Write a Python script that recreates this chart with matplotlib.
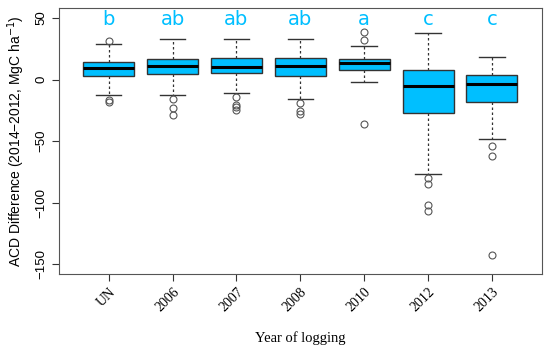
import numpy as np
import matplotlib.pyplot as plt

plt.rcParams['font.family'] = ['Liberation Serif', 'DejaVu Serif']

# groups and box statistics
groups = ["UN", "2006", "2007", "2008", "2010", "2012", "2013"]
letters = ["b", "ab", "ab", "ab", "a", "c", "c"]
q1 = [3.0, 4.7, 5.0, 2.6, 7.9, -27.1, -18.0]
med = [9.0, 11.2, 9.9, 11.2, 13.6, -5.5, -3.4]
q3 = [14.0, 16.6, 17.2, 17.2, 16.4, 7.7, 3.9]
whislo = [-12.3, -12.8, -10.9, -15.5, -2.3, -76.6, -48.2]
whishi = [28.5, 32.8, 32.8, 32.8, 26.9, 37.9, 18.5]
fliers = [
    [31.0, -16.6, -18.2],
    [-16.0, -23.3, -29.0],
    [-14.4, -20.9, -22.5, -25.0],
    [-19.3, -25.8, -27.7],
    [38.5, 32.0, -35.8],
    [-80.0, -84.7, -101.7, -107.0],
    [-53.6, -61.7, -142.2],
]
letter_y = 49

blue = "#00BFFF"
stats = []
for i in range(len(groups)):
    stats.append(dict(med=med[i], q1=q1[i], q3=q3[i], whislo=whislo[i],
                      whishi=whishi[i], fliers=fliers[i], label=groups[i]))

fig = plt.figure(figsize=(5.5, 3.52), dpi=100)
ax = fig.add_axes([0.107, 0.222, 0.878, 0.755])
pos = np.arange(1, len(groups) + 1)
ax.bxp(stats, positions=pos, widths=0.8, patch_artist=True,
       boxprops=dict(facecolor=blue, edgecolor="#333333", linewidth=1),
       medianprops=dict(color="black", linewidth=2.2),
       whiskerprops=dict(color="#333333", linestyle=(0, (2, 2)), linewidth=0.9),
       capprops=dict(color="#333333", linewidth=1),
       capwidths=0.4,
       flierprops=dict(marker="o", markerfacecolor="none", markeredgecolor="#555555",
                       markersize=5, markeredgewidth=0.8))

for p, t in zip(pos, letters):
    ax.text(p, letter_y, t, color=blue, fontsize=14, ha="center", va="center",
            family=["DejaVu Sans"])

ax.set_xlim(0.22, 7.78)
ax.set_ylim(-157.6, 58)
ax.set_yticks([-150, -100, -50, 0, 50])
ax.set_yticklabels(["\u2212150", "\u2212100", "\u221250", "0", "50"], rotation=90,
                   va="center", family=["Liberation Sans"], fontsize=9.5)
ax.set_xticks(pos)
ax.set_xticklabels(groups, rotation=45, ha="right", rotation_mode="anchor", fontsize=10)
ax.tick_params(color="#333333", length=5)
for s in ax.spines.values():
    s.set_color("#555555")
ax.set_ylabel("ACD Difference (2014\u22122012, MgC ha$^{-1}$)", fontsize=10,
              family=["Liberation Sans"], labelpad=6)
ax.set_xlabel("Year of logging", fontsize=10.5, labelpad=12)

fig.savefig("out.png", dpi=100)
